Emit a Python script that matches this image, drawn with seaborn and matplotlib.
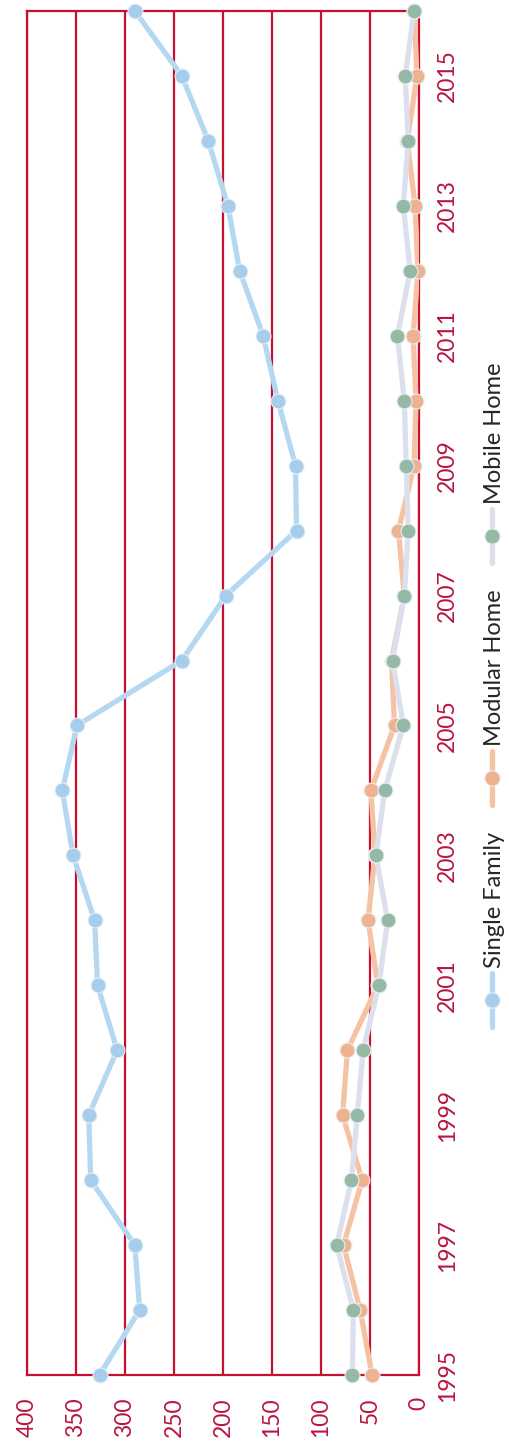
import matplotlib

matplotlib.use("Agg")
import matplotlib.pyplot as plt
from matplotlib.lines import Line2D
import pandas as pd
import seaborn as sns

years = list(range(1995, 2017))
single_family = [326, 285, 290, 335, 337, 308, 328, 331, 353, 364, 349,
                 242, 197, 125, 126, 144, 159, 183, 195, 215, 242, 290]
modular_home = [48, 60, 77, 58, 78, 73, 42, 52, 45, 49, 25,
                28, 15, 21, 5, 3, 6, 1, 4, 12, 2, 5]
mobile_home = [68, 67, 84, 69, 63, 57, 41, 32, 44, 35, 16,
               27, 15, 11, 13, 15, 22, 9, 16, 11, 14, 5]
series_names = ["Single Family", "Modular Home", "Mobile Home"]
value_ticks = [0, 50, 100, 150, 200, 250, 300, 350, 400]
year_ticks = list(range(1995, 2016, 2))

line_colors = {"Single Family": "#B4D8F2", "Modular Home": "#F5C2A4", "Mobile Home": "#DCE0EE"}
marker_colors = {"Single Family": "#A6CDEC", "Modular Home": "#EFB28F", "Mobile Home": "#96B9A6"}
grid_red = "#C8102E"
text_red = "#B8163F"

records = []
for name, vals in zip(series_names, [single_family, modular_home, mobile_home]):
    for y, v in zip(years, vals):
        records.append({"Year": y, "Value": v, "Series": name})
df = pd.DataFrame(records)

sns.set_theme(style="white")
plt.rcParams["font.family"] = ["Lato", "DejaVu Sans"]

fig = plt.figure(figsize=(5.10, 14.42), dpi=100)
ax = fig.add_axes([27 / 510, 1 - 1375 / 1442, (419 - 27) / 510, (1375 - 11) / 1442])

for name in series_names:
    sub = df[df["Series"] == name]
    sns.lineplot(data=sub, x="Value", y="Year", orient="y", sort=True,
                 color=line_colors[name], linewidth=3.8, ax=ax, zorder=2,
                 legend=False)
    sns.scatterplot(data=sub, x="Value", y="Year", color=marker_colors[name],
                    s=115, edgecolor="#E8EEF4", linewidth=0.8, ax=ax, zorder=3,
                    legend=False)

ax.set_xlim(400, 0)
ax.set_ylim(1995, 2016)
ax.set_xticks(value_ticks)
ax.set_xticklabels([str(v) for v in value_ticks], rotation=90)
ax.yaxis.tick_right()
ax.set_yticks(year_ticks)
ax.set_yticklabels([str(y) for y in year_ticks], rotation=90, va="center")
ax.tick_params(axis="x", length=0, pad=16, labelsize=16.5, labelcolor=text_red)
ax.tick_params(axis="y", length=0, pad=13, labelsize=16.5, labelcolor=text_red)
ax.set_xlabel("")
ax.set_ylabel("")
for v in value_ticks:
    ax.axvline(v, color=grid_red, linewidth=1.6, zorder=1)
for sp in ax.spines.values():
    sp.set_color(grid_red)
    sp.set_linewidth(1.6)
    sp.set_zorder(1)
for coll in ax.collections:
    coll.set_clip_on(False)

# legend drawn rotated, matching the turned page
legend_pos = {"Single Family": 1000, "Modular Home": 778, "Mobile Home": 536}
lx = 492 / 510
for name in series_names:
    yc = 1 - legend_pos[name] / 1442
    fig.add_artist(Line2D([lx, lx], [yc - 27 / 1442, yc + 27 / 1442],
                          transform=fig.transFigure, color=line_colors[name],
                          linewidth=3.8))
    fig.add_artist(Line2D([lx], [yc], transform=fig.transFigure, marker="o",
                          markersize=11, color=marker_colors[name],
                          markeredgecolor="#E8EEF4", markeredgewidth=0.8))
    fig.text(495 / 510, yc + 32 / 1442, name, rotation=90, ha="center",
             va="bottom", fontsize=17, color="#262626")

fig.savefig("out.png", dpi=100, facecolor="white")
